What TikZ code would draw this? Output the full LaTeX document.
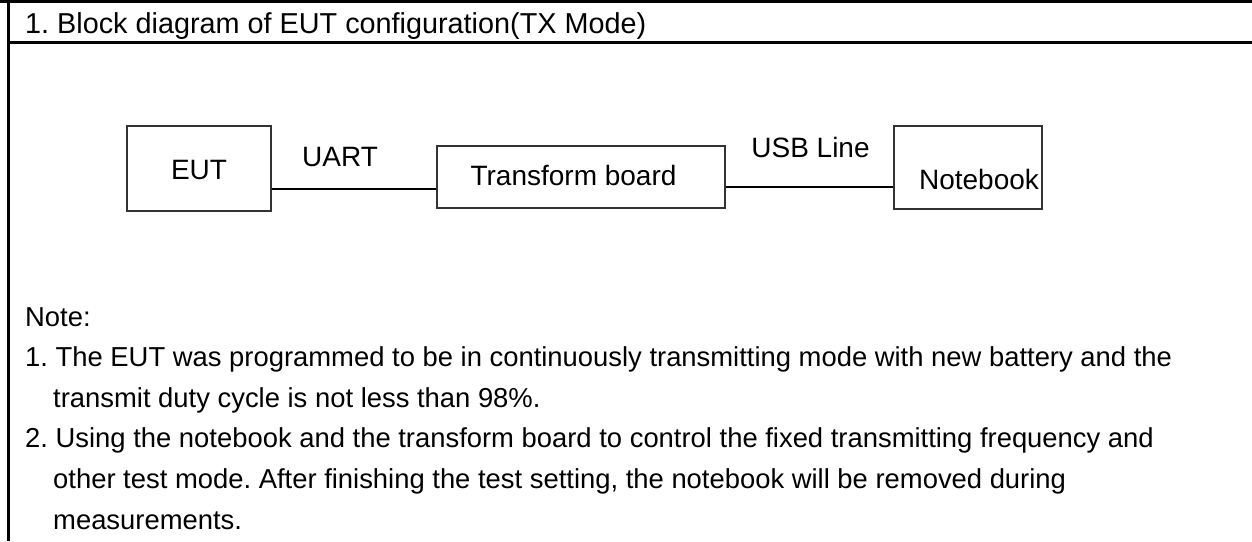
\documentclass[tikz,border=0pt]{standalone}
\usepackage{fontspec}
\setmainfont{Liberation Sans}
\frenchspacing
\begin{document}
\begin{tikzpicture}[x=1pt,y=-1pt,
  frame/.style={line width=2.6pt,black},
  blk/.style={draw=black!80,line width=1.4pt,inner sep=0pt,rectangle},
  wire/.style={line width=1.6pt,black},
  lbl/.style={anchor=base,inner sep=0pt,font=\fontsize{28}{32}\selectfont},
  hdr/.style={anchor=base west,inner sep=0pt,font=\fontsize{28.8}{32}\selectfont},
  note/.style={anchor=base west,inner sep=0pt,font=\fontsize{27.4}{34}\selectfont}]
\useasboundingbox (0,0) rectangle (1252,541);
% frame lines
\draw[frame] (0,1.3) -- (1252,1.3);
\draw[frame] (8,42.5) -- (1252,42.5);
\draw[frame] (8.5,0) -- (8.5,541);
% header
\node[hdr] (title) at (25,33) {1. Block diagram of EUT configuration(TX Mode)};
% blocks
\node[blk,minimum width=144pt,minimum height=85pt] (eut) at (199,168.5) {};
\node[blk,minimum width=288pt,minimum height=62pt] (tb) at (581,177) {};
\node[blk,minimum width=148pt,minimum height=83pt] (nb) at (968,167.5) {};
\node[lbl] (teut) at (199,179) {EUT};
\node[lbl] (ttb) at (573.5,185) {Transform board};
\node[lbl] (tnb) at (979,189) {Notebook};
% connectors
\coordinate (y1) at (0,189);
\coordinate (y2) at (0,187);
\draw[wire] (eut.east |- y1) -- (tb.west |- y1);
\draw[wire] (tb.east |- y2) -- (nb.west |- y2);
\node[lbl] (uart) at (340,166) {UART};
\node[lbl] (usb) at (810.5,157) {USB Line};
% notes
\node[note] (n0) at (25,326) {Note:};
\node[note] (n1) at (25,366.6) {1. The EUT was programmed to be in continuously transmitting mode with new battery and the};
\node[note] (n1b) at (53,407.2) {transmit duty cycle is not less than 98\%.};
\node[note] (n2) at (25,447.8) {2. Using the notebook and the transform board to control the fixed transmitting frequency and};
\node[note] (n2b) at (53,488.4) {other test mode. After finishing the test setting, the notebook will be removed during};
\node[note] (n2c) at (53,529) {measurements.};
\end{tikzpicture}
\end{document}
